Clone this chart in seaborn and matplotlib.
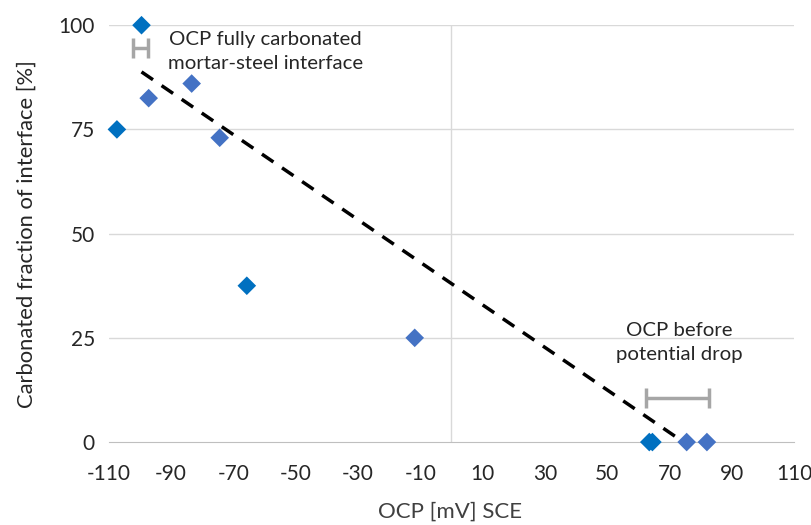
import pandas as pd
import matplotlib.pyplot as plt
import numpy as np
import seaborn as sb

# two marker series (two slightly different blues in the original)
ocp_a = [-99.5, -107.4, -65.7, 63.5, 64.5]
frac_a = [100, 75, 37.5, 0, 0]

ocp_b = [-97.2, -83.4, -74.4, -11.8, 75.5, 82.0]
frac_b = [82.5, 86, 73, 25, 0, 0]

# dashed trend line
trend_x = [-99.5, 73.5]
trend_y = [88.8, 0.5]

# horizontal range bars (centre, half width, height)
bar_x = [-99.9, 72.7]
bar_err = [2.4, 10.1]
bar_y = [94.6, 10.6]

xticks = list(range(-110, 111, 20))
yticks = [0, 25, 50, 75, 100]

df = pd.DataFrame({
    'ocp': ocp_a + ocp_b,
    'frac': frac_a + frac_b,
    'series': ['a'] * len(ocp_a) + ['b'] * len(ocp_b),
})

sb.set_style('white')
plt.rcParams['font.family'] = ['Lato', 'DejaVu Sans']
plt.rcParams['axes.unicode_minus'] = False

fig = plt.figure(figsize=(8.12, 5.25), dpi=100)
ax = fig.add_axes([0.134, 0.158, 0.844, 0.794])

for y in yticks[1:]:
    ax.axhline(y, color='#d9d9d9', lw=1, zorder=0)
ax.axvline(0, color='#d9d9d9', lw=1, zorder=0)

ax.plot(trend_x, trend_y, color='black', ls=(0, (4, 3)), lw=2.5, zorder=2)

ax.errorbar(bar_x, bar_y, xerr=bar_err, fmt='none', ecolor='#a6a6a6',
            elinewidth=2.5, capsize=7, capthick=2.5, zorder=2)

sb.scatterplot(data=df, x='ocp', y='frac', hue='series', marker='D', s=90,
               palette={'a': '#0070c0', 'b': '#4472c4'}, edgecolor='none',
               legend=False, ax=ax, zorder=3, clip_on=False)

ax.set_xlim(-110, 110)
ax.set_ylim(0, 100)
ax.set_xticks(xticks)
ax.set_yticks(yticks)
ax.tick_params(axis='x', length=5, color='#bfbfbf', direction='out', labelsize=15, pad=11)
ax.tick_params(axis='y', length=0, labelsize=15, pad=10)

for s in ['top', 'right', 'left']:
    ax.spines[s].set_visible(False)
ax.spines['bottom'].set_color('#bfbfbf')

ax.set_xlabel('OCP [mV] SCE', fontsize=16, color='#404040')
ax.xaxis.set_label_coords(0.498, -0.143)
ax.set_ylabel('Carbonated fraction of interface [%]', fontsize=15.8)
ax.yaxis.set_label_coords(-0.105, 0.5)

ax.text(-59.6, 93.6, 'OCP fully carbonated\nmortar-steel interface', ha='center',
        va='center', fontsize=14.7, linespacing=1.5)
ax.text(73.1, 23.9, 'OCP before\npotential drop', ha='center', va='center',
        fontsize=14.7, linespacing=1.55)

plt.savefig('out.png', dpi=100)
